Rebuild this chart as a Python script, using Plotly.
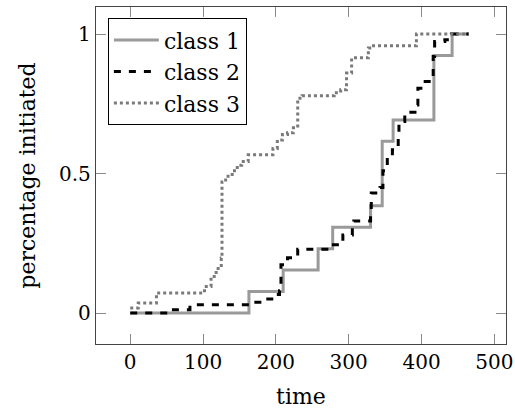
import plotly.graph_objects as go

# class 1 (solid gray) step data
t1 = [0, 163, 210, 258, 278, 330, 346, 361, 417, 442, 465]
p1 = [0, 1/13, 2/13, 3/13, 4/13, 5/13, 8/13, 9/13, 12/13, 1.0, 1.0]

# class 2 (black dashed) step data
t2 = [0, 57, 82, 168, 182, 198, 205, 207, 216, 230, 270, 292, 305, 307, 330, 331,
      343, 347, 353, 360, 368, 369, 377, 391, 395, 405, 416, 418, 432, 441, 465]
p2 = [0, 0.012, 0.03, 0.039, 0.05, 0.066, 0.08, 0.173, 0.198, 0.229, 0.245, 0.28,
      0.31, 0.33, 0.37, 0.43, 0.45, 0.51, 0.55, 0.585, 0.633, 0.687, 0.72, 0.746,
      0.806, 0.83, 0.92, 0.973, 0.98, 1.0, 1.0]

# class 3 (gray dotted) step data
t3 = [0, 11, 36, 102, 111, 118, 125, 126, 131, 140, 147, 153, 162, 196, 202, 209,
      216, 224, 230, 236, 280, 289, 297, 304, 327, 331, 393, 465]
p3 = [0.018, 0.036, 0.072, 0.095, 0.131, 0.16, 0.197, 0.47, 0.49, 0.51, 0.53, 0.543,
      0.567, 0.59, 0.62, 0.64, 0.646, 0.664, 0.77, 0.779, 0.79, 0.80, 0.86, 0.915,
      0.95, 0.958, 1.0, 1.0]

names = ["class 1", "class 2", "class 3"]
x_ticks = [0, 100, 200, 300, 400, 500]
y_ticks = [0, 0.5, 1]
y_tick_text = ["0", "0.5", "1"]

FONT = "DejaVu Serif"

fig = go.Figure()
fig.add_trace(go.Scatter(x=t1, y=p1, mode="lines", name=names[0], line_shape="hv",
                         line=dict(color="#9a9a9a", width=3)))
fig.add_trace(go.Scatter(x=t2, y=p2, mode="lines", name=names[1], line_shape="hv",
                         line=dict(color="#000000", width=3, dash="7px,8px")))
fig.add_trace(go.Scatter(x=t3, y=p3, mode="lines", name=names[2], line_shape="hv",
                         line=dict(color="#7a7a7a", width=3, dash="3px,3px")))

axis_common = dict(showline=True, mirror="ticks", linecolor="#444444", linewidth=1.3,
                   ticks="inside", ticklen=10, tickwidth=1, tickcolor="#8a8a8a",
                   showgrid=False, zeroline=False, automargin=False,
                   tickfont=dict(family=FONT, size=20, color="black"))

fig.update_layout(
    width=515, height=409,
    margin=dict(l=96, r=9, t=7, b=65),
    paper_bgcolor="white", plot_bgcolor="white",
    font=dict(family=FONT, size=20, color="black"),
    xaxis=dict(range=[-47, 516], tickvals=x_ticks,
               title=dict(text="time", font=dict(family=FONT, size=22), standoff=19),
               **axis_common),
    yaxis=dict(range=[-0.111, 1.097], tickvals=y_ticks, ticktext=y_tick_text,
               title=dict(text="percentage initiated", font=dict(family=FONT, size=22), standoff=17),
               **axis_common),
    legend=dict(x=0.029, y=0.967, xanchor="left", yanchor="top",
                bordercolor="black", borderwidth=1, bgcolor="white",
                itemwidth=45, entrywidth=108,
                font=dict(family=FONT, size=22), tracegroupgap=0),
    showlegend=True,
)

fig.write_html("out.html", config={"displayModeBar": False},
               post_script="document.body.style.margin='0';")
